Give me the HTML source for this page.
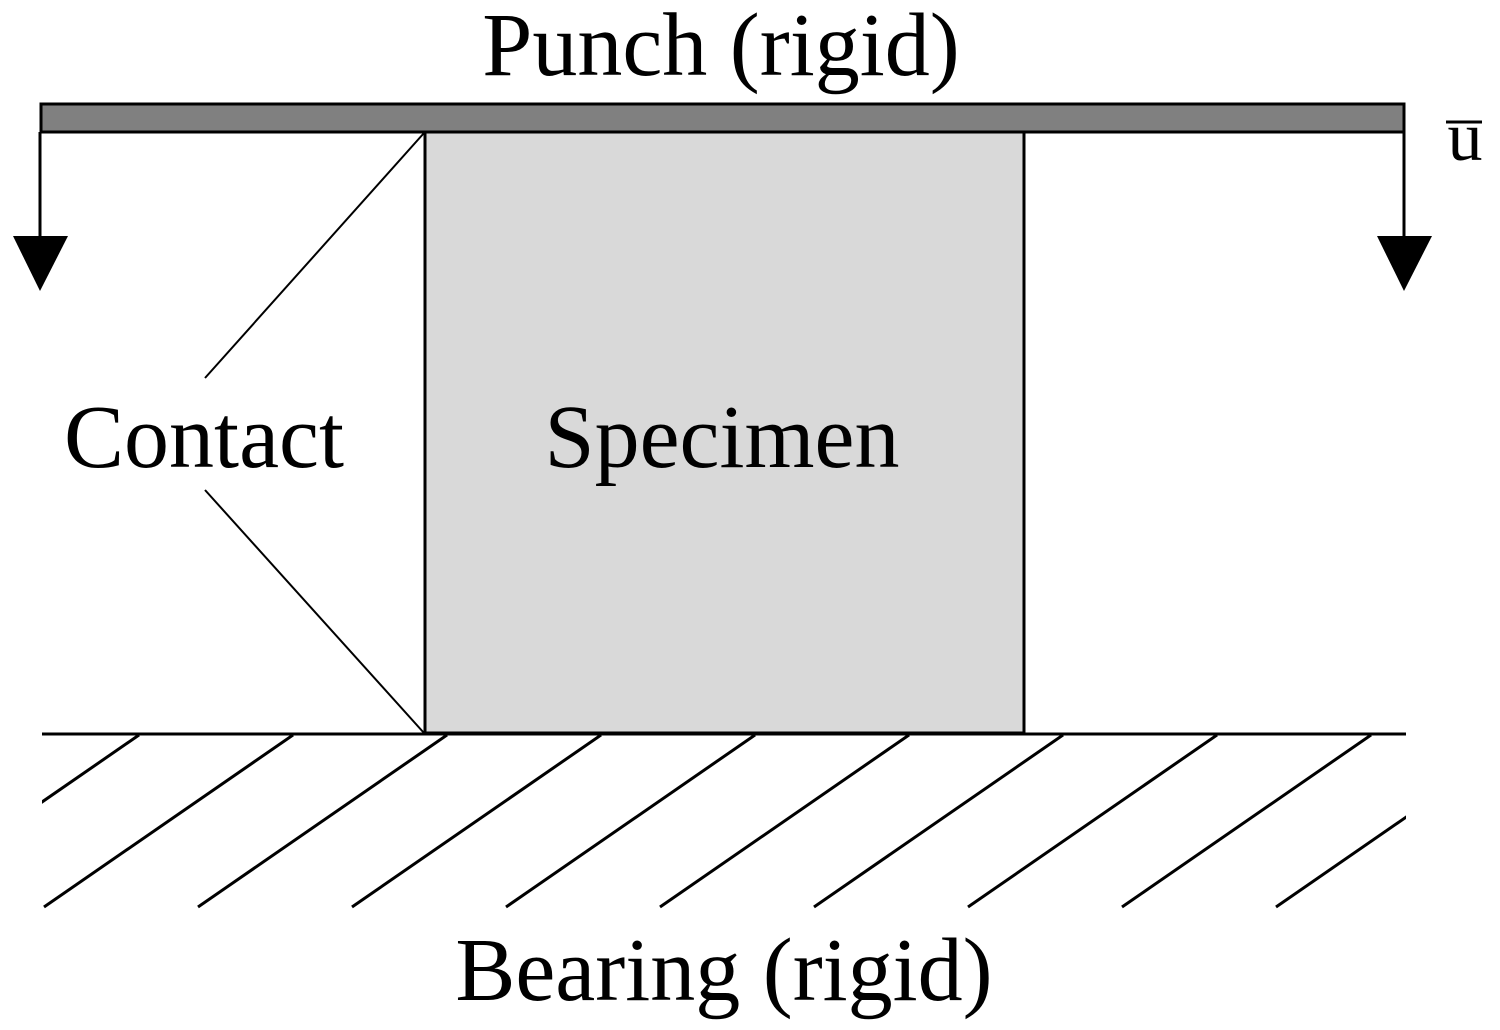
<!DOCTYPE html>
<html><head><meta charset="utf-8"><style>
html,body{margin:0;padding:0;background:#fff;}
svg{display:block;}
text{font-family:"Liberation Serif",serif;fill:#000;}
</style></head><body>
<svg width="1500" height="1030" viewBox="0 0 1500 1030" xmlns="http://www.w3.org/2000/svg">
<rect x="0" y="0" width="1500" height="1030" fill="#fff"/>
<text x="721" y="75" font-size="90" text-anchor="middle">Punch (rigid)</text>
<rect x="41" y="104" width="1363" height="28" fill="#808080" stroke="#000" stroke-width="3"/>
<rect x="425" y="132" width="599" height="601" fill="#d9d9d9" stroke="#000" stroke-width="3"/>
<line x1="40" y1="132" x2="40" y2="240" stroke="#000" stroke-width="3"/>
<polygon points="13,236 68,236 40,291" fill="#000"/>
<line x1="1404" y1="132" x2="1404" y2="240" stroke="#000" stroke-width="3"/>
<polygon points="1377,236 1432,236 1404,291" fill="#000"/>
<text x="1465" y="160" font-size="70" text-anchor="middle">u</text>
<line x1="1446" y1="122" x2="1482" y2="122" stroke="#000" stroke-width="3"/>
<line x1="424" y1="133" x2="205" y2="378" stroke="#000" stroke-width="2"/>
<line x1="205" y1="490" x2="424" y2="733" stroke="#000" stroke-width="2"/>
<text x="204" y="467" font-size="90" text-anchor="middle">Contact</text>
<text x="722" y="467" font-size="90" text-anchor="middle">Specimen</text>
<line x1="42" y1="734" x2="1406" y2="734" stroke="#000" stroke-width="3"/>
<clipPath id="c"><rect x="42" y="734" width="1364" height="180"/></clipPath>
<g clip-path="url(#c)" stroke="#000" stroke-width="3">
<line x1="139" y1="735" x2="-110" y2="907"/>
<line x1="293" y1="735" x2="44" y2="907"/>
<line x1="447" y1="735" x2="198" y2="907"/>
<line x1="601" y1="735" x2="352" y2="907"/>
<line x1="755" y1="735" x2="506" y2="907"/>
<line x1="909" y1="735" x2="660" y2="907"/>
<line x1="1063" y1="735" x2="814" y2="907"/>
<line x1="1217" y1="735" x2="968" y2="907"/>
<line x1="1371" y1="735" x2="1122" y2="907"/>
<line x1="1525" y1="735" x2="1276" y2="907"/>
</g>
<text x="724" y="1000" font-size="90" text-anchor="middle">Bearing (rigid)</text>
</svg>
</body></html>
